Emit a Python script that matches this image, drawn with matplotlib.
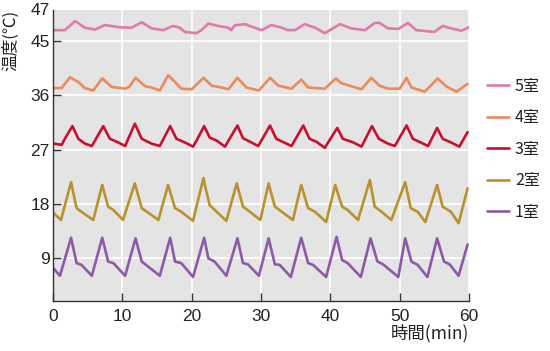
import matplotlib
matplotlib.use("Agg")
import matplotlib.pyplot as plt

plt.rcParams['font.family'] = ['Liberation Sans', 'Noto Sans CJK JP', 'DejaVu Sans']

# ---- data ----
t5 = [0.05, 1.7, 3.2, 4.6, 6.05, 7.5, 9.4, 11.3, 12.8, 14.2, 15.9, 17.3, 18.3, 19.0, 20.7, 21.4,
      22.4, 23.8, 25.3, 25.7, 26.2, 27.7, 28.6, 30.1, 31.5, 33.0, 33.9, 34.9, 36.3, 37.8, 39.2,
      41.4, 43.0, 45.0, 46.4, 47.1, 48.3, 49.8, 51.2, 52.4, 55.0, 56.2, 57.4, 58.9, 60.0]
v5 = [46.8, 46.8, 48.3, 47.2, 46.9, 47.65, 47.3, 47.2, 48.1, 47.1, 46.8, 47.5, 47.2, 46.5, 46.3, 46.8,
      47.9, 47.5, 47.2, 46.8, 47.6, 47.8, 47.4, 46.8, 47.65, 47.2, 46.8, 46.8, 47.8, 47.2, 46.3,
      47.8, 47.1, 46.8, 48.0, 48.0, 47.1, 47.0, 48.0, 46.8, 46.5, 47.5, 47.1, 46.7, 47.3]

t4 = [0.05, 1.25, 2.45, 3.65, 4.6, 5.8, 7.1, 8.45, 10.4, 11.0, 11.9, 13.3, 14.2, 15.4, 16.6, 17.1,
      18.5, 20.0, 21.7, 22.9, 24.3, 25.3, 26.6, 27.9, 29.7, 31.3, 32.5, 34.4, 35.8, 36.8, 39.2,
      40.8, 41.6, 44.5, 45.9, 47.1, 48.3, 50.0, 51.0, 51.7, 53.6, 55.5, 56.7, 58.2, 59.8]
v4 = [37.2, 37.2, 39.0, 38.2, 37.2, 36.8, 38.8, 37.4, 37.1, 37.4, 38.9, 37.5, 37.3, 36.8, 39.3, 38.8,
      37.1, 37.0, 38.9, 37.6, 37.3, 37.0, 38.9, 37.3, 36.8, 38.9, 37.6, 37.1, 38.6, 37.3, 37.1,
      38.8, 38.0, 37.0, 38.9, 37.6, 37.1, 37.1, 38.9, 37.3, 36.6, 38.8, 37.5, 36.6, 37.9]

t3 = [0.05, 1.25, 1.7, 2.8, 3.65, 4.6, 5.6, 7.25, 8.2, 9.4, 10.4, 11.8, 12.8, 14.2, 15.4, 16.9,
      17.8, 19.0, 20.2, 20.7, 21.8, 22.6, 23.6, 24.8, 26.6, 27.4, 28.6, 29.6, 31.3, 32.2, 34.4,
      36.1, 37.0, 38.0, 39.2, 41.0, 41.8, 43.3, 44.5, 46.0, 47.0, 48.3, 49.3, 51.0, 51.9, 54.1,
      55.4, 56.2, 57.4, 58.6, 59.8]
v3 = [28.0, 27.8, 28.8, 30.9, 28.8, 28.0, 27.6, 30.9, 28.8, 28.2, 27.6, 31.3, 28.8, 28.0, 27.6, 30.9,
      28.8, 28.2, 27.5, 28.5, 30.9, 29.0, 28.5, 27.5, 31.0, 28.9, 28.2, 27.6, 31.0, 28.8, 27.6,
      31.0, 28.8, 28.3, 27.3, 30.6, 28.8, 28.2, 27.5, 30.9, 28.8, 28.0, 27.6, 31.0, 28.8, 27.6,
      30.6, 28.8, 28.2, 27.5, 29.9]

t2 = [0.05, 1.15, 2.6, 3.4, 4.1, 5.8, 7.1, 7.95, 8.7, 10.1, 11.8, 12.8, 15.2, 16.6, 17.6, 18.5,
      20.2, 21.7, 21.9, 22.6, 25.0, 26.5, 27.4, 28.4, 29.9, 31.1, 32.0, 33.0, 34.6, 35.8, 36.8,
      37.8, 39.4, 40.7, 41.7, 42.5, 44.0, 45.7, 46.4, 47.4, 48.8, 50.8, 51.6, 52.6, 53.7, 55.4,
      56.2, 57.4, 58.5, 59.8]
v2 = [16.5, 15.35, 21.6, 17.3, 16.7, 15.35, 21.15, 17.55, 17.0, 15.35, 21.4, 17.3, 15.35, 21.15, 17.3, 16.7,
      15.2, 22.3, 21.15, 17.8, 15.2, 21.4, 17.55, 16.7, 15.35, 21.4, 17.55, 16.7, 15.35, 21.15, 17.3,
      16.7, 15.0, 21.15, 17.55, 17.0, 15.35, 21.95, 17.55, 16.7, 15.35, 21.6, 17.3, 16.7, 15.0, 21.15,
      17.55, 16.7, 14.8, 20.6]

t1 = [0.05, 1.0, 2.6, 3.4, 4.1, 5.6, 7.1, 7.95, 8.7, 10.4, 11.9, 12.8, 15.4, 16.9, 17.6, 18.5,
      20.2, 21.8, 22.4, 23.3, 25.0, 26.6, 27.4, 28.1, 29.7, 31.1, 32.0, 32.7, 34.3, 35.8, 36.8,
      37.5, 39.4, 40.9, 41.7, 42.5, 44.4, 45.8, 46.8, 47.6, 49.8, 50.8, 51.7, 52.6, 54.0, 55.4,
      56.4, 57.2, 58.5, 59.8]
v1 = [7.35, 6.1, 12.4, 8.2, 7.9, 6.1, 12.4, 8.45, 8.2, 6.1, 12.3, 8.45, 6.1, 12.4, 8.45, 8.2,
      5.9, 12.4, 9.0, 8.45, 6.1, 12.3, 8.2, 8.0, 6.1, 12.3, 8.0, 7.9, 5.9, 12.4, 8.2,
      7.9, 5.9, 12.55, 8.7, 8.2, 5.9, 12.3, 8.45, 8.0, 5.9, 12.3, 8.45, 7.9, 5.9, 12.3,
      8.45, 8.0, 6.1, 11.3]

labels = ['5室', '4室', '3室', '2室', '1室']
colors = ['#e07aa9', '#eb8a5c', '#c8102e', '#b8922c', '#8c5aa6']
ytick_vals = [9, 18, 27, 36, 45]
ytick_labels = ['9', '18', '27', '36', '45']
xtick_vals = [0, 10, 20, 30, 40, 50, 60]
top_label = '47'

series = [(t5, v5), (t4, v4), (t3, v3), (t2, v2), (t1, v1)]

cjk = ['Noto Sans CJK JP', 'DejaVu Sans']
fs = 12.5

fig = plt.figure(figsize=(5.5, 3.51), dpi=100)
ax = fig.add_axes([0.0964, 0.1425, 0.7563, 0.829])
ax.set_facecolor('#e4e4e4')

for (t, v), lab, c in zip(series, labels, colors):
    ax.plot(t, v, color=c, lw=1.9, label=lab, solid_joinstyle='round', solid_capstyle='round')

ax.set_xlim(0, 60)
ax.set_ylim(1.92, 50.14)
ax.set_xticks(xtick_vals)
ax.set_yticks(ytick_vals)
ax.set_yticklabels(ytick_labels)
ax.grid(True, color='white', lw=1.2)
ax.set_axisbelow(True)
for s in ['top', 'right']:
    ax.spines[s].set_visible(False)
for s in ['left', 'bottom']:
    ax.spines[s].set_color('#333333')
    ax.spines[s].set_linewidth(1.0)
ax.tick_params(axis='both', direction='in', length=6, width=1, color='#333333',
               labelsize=fs, labelcolor='#222222')
ax.tick_params(axis='y', pad=2.5)
ax.tick_params(axis='x', pad=6)

# top label "47" at the top edge of the axis
ax.text(-0.008, 1.0, top_label, transform=ax.transAxes, ha='right', va='center',
        fontsize=fs, color='#222222')

ax.set_xlabel('時間(min)', fontsize=12.5, color='#222222', loc='right',
              family=cjk, labelpad=0)
fig.text(0.019, 0.885, '温度(℃)', rotation=90, ha='center', va='center',
         fontsize=12, color='#222222', family=cjk)

leg = ax.legend(loc='upper left', bbox_to_anchor=(487 / 550, (351 - 78) / 351),
                bbox_transform=fig.transFigure, frameon=False, borderaxespad=0,
                borderpad=0, handlelength=1.4, handletextpad=0.35, labelspacing=0.9,
                prop={'family': cjk, 'size': 11.5})
for txt in leg.get_texts():
    txt.set_color('#222222')

fig.savefig('out.png', dpi=100)
